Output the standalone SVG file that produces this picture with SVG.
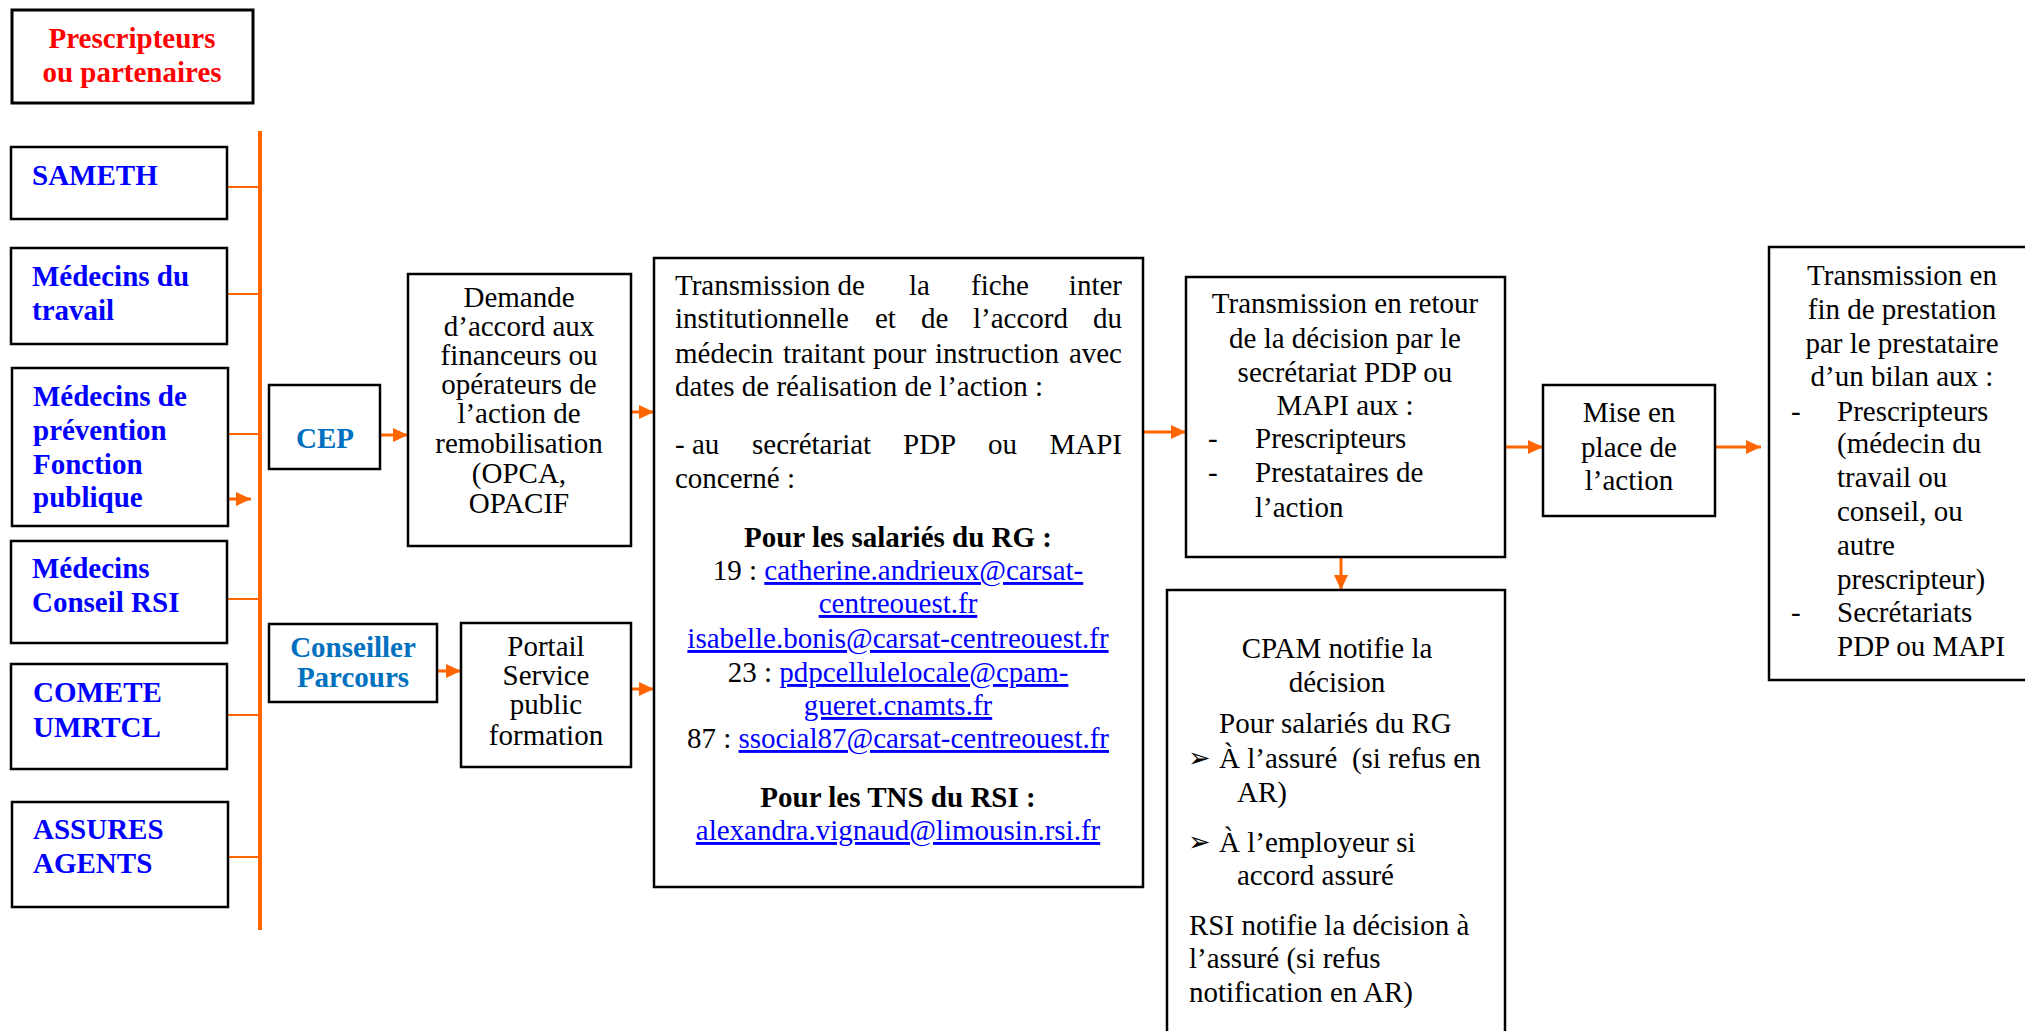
<svg xmlns="http://www.w3.org/2000/svg" width="2025" height="1031" viewBox="0 0 2025 1031">
<style>
.box{fill:#fff;stroke:#000;stroke-width:2.5}
.t{font-family:"Liberation Serif","Times New Roman",serif;font-size:29px;fill:#000}
.b{font-weight:bold}
.blue{fill:#0000FF}
.cblue{fill:#0070C0}
.red{fill:#FF0000}
.link{fill:#0000FF;text-decoration:underline}
.mid{text-anchor:middle}
.branch{stroke:#FF6600;stroke-width:2.2;fill:none}
.conn{stroke:#FF6600;stroke-width:3;fill:none}
.bul{font-family:"DejaVu Sans",sans-serif;font-size:27px;fill:#000}
</style>
<defs>
<marker id="ah" viewBox="0 0 15 14" refX="15" refY="7" markerWidth="15" markerHeight="14" markerUnits="userSpaceOnUse" orient="auto">
<path d="M0,0 L15,7 L0,14 z" fill="#FF6600"/>
</marker>
</defs>
<rect width="2025" height="1031" fill="#fff"/>

<g id="connectors">
<line class="conn" x1="260" y1="131" x2="260" y2="930" style="stroke-width:4"/>
<line class="branch" x1="227" y1="187" x2="260" y2="187"/>
<line class="branch" x1="227" y1="294" x2="260" y2="294"/>
<line class="branch" x1="227" y1="434" x2="260" y2="434"/>
<line class="branch" x1="227" y1="599" x2="260" y2="599"/>
<line class="branch" x1="227" y1="715" x2="260" y2="715"/>
<line class="branch" x1="227" y1="857" x2="260" y2="857"/>
<line class="conn" x1="228" y1="499" x2="251" y2="499" marker-end="url(#ah)"/>
<line class="conn" x1="380" y1="435" x2="408" y2="435" marker-end="url(#ah)"/>
<line class="conn" x1="437" y1="671" x2="461" y2="671" marker-end="url(#ah)"/>
<line class="conn" x1="631" y1="412" x2="654" y2="412" marker-end="url(#ah)"/>
<line class="conn" x1="631" y1="689" x2="654" y2="689" marker-end="url(#ah)"/>
<line class="conn" x1="1143" y1="432" x2="1186" y2="432" marker-end="url(#ah)"/>
<line class="conn" x1="1341" y1="557" x2="1341" y2="590" marker-end="url(#ah)"/>
<line class="conn" x1="1505" y1="447" x2="1543" y2="447" marker-end="url(#ah)"/>
<line class="conn" x1="1715" y1="447" x2="1761" y2="447" marker-end="url(#ah)"/>
</g>

<g id="header">
<rect class="box" x="12" y="10" width="241" height="93" style="stroke-width:3"/>
<text class="t b red mid" x="132" y="48">Prescripteurs</text>
<text class="t b red mid" x="132" y="82">ou partenaires</text>
</g>

<g id="sameth">
<rect class="box" x="11" y="147" width="216" height="72"/>
<text class="t b blue" x="32" y="185">SAMETH</text>
</g>

<g id="medecins-travail">
<rect class="box" x="11" y="248" width="216" height="96"/>
<text class="t b blue" x="32" y="286">Médecins du</text>
<text class="t b blue" x="32" y="320">travail</text>
</g>

<g id="medecins-prevention">
<rect class="box" x="12" y="368" width="216" height="158"/>
<text class="t b blue" x="33" y="406">Médecins de</text>
<text class="t b blue" x="33" y="440">prévention</text>
<text class="t b blue" x="33" y="474">Fonction</text>
<text class="t b blue" x="33" y="507">publique</text>
</g>

<g id="medecins-rsi">
<rect class="box" x="11" y="541" width="216" height="102"/>
<text class="t b blue" x="32" y="578">Médecins</text>
<text class="t b blue" x="32" y="612">Conseil RSI</text>
</g>

<g id="comete">
<rect class="box" x="11" y="664" width="216" height="105"/>
<text class="t b blue" x="33" y="702">COMETE</text>
<text class="t b blue" x="33" y="737">UMRTCL</text>
</g>

<g id="assures">
<rect class="box" x="12" y="802" width="216" height="105"/>
<text class="t b blue" x="33" y="839">ASSURES</text>
<text class="t b blue" x="33" y="873">AGENTS</text>
</g>

<g id="cep">
<rect class="box" x="269" y="385" width="111" height="84"/>
<text class="t b cblue mid" x="325" y="448">CEP</text>
</g>

<g id="conseiller">
<rect class="box" x="269" y="624" width="168" height="78"/>
<text class="t b cblue mid" x="353" y="657">Conseiller</text>
<text class="t b cblue mid" x="353" y="687">Parcours</text>
</g>

<g id="demande">
<rect class="box" x="408" y="274" width="223" height="272"/>
<text class="t mid" x="519" y="307">Demande</text>
<text class="t mid" x="519" y="336">d’accord aux</text>
<text class="t mid" x="519" y="365">financeurs ou</text>
<text class="t mid" x="519" y="394">opérateurs de</text>
<text class="t mid" x="519" y="423">l’action de</text>
<text class="t mid" x="519" y="453">remobilisation</text>
<text class="t mid" x="519" y="483">(OPCA,</text>
<text class="t mid" x="519" y="513">OPACIF</text>
</g>

<g id="portail">
<rect class="box" x="461" y="623" width="170" height="144"/>
<text class="t mid" x="546" y="656">Portail</text>
<text class="t mid" x="546" y="685">Service</text>
<text class="t mid" x="546" y="714">public</text>
<text class="t mid" x="546" y="745">formation</text>
</g>

<g id="transmission">
<rect class="box" x="654" y="258" width="489" height="629"/>
<text class="t" y="295"><tspan x="675">Transmission de</tspan><tspan x="909">la</tspan><tspan x="971">fiche</tspan><tspan x="1122" text-anchor="end">inter</tspan></text>
<text class="t" y="328"><tspan x="675">institutionnelle</tspan><tspan x="875">et</tspan><tspan x="921">de</tspan><tspan x="973">l’accord</tspan><tspan x="1122" text-anchor="end">du</tspan></text>
<text class="t" y="363"><tspan x="675">médecin</tspan><tspan x="783">traitant</tspan><tspan x="873">pour</tspan><tspan x="935">instruction</tspan><tspan x="1122" text-anchor="end">avec</tspan></text>
<text class="t" x="675" y="396">dates de réalisation de l’action :</text>
<text class="t" y="454"><tspan x="675">- au</tspan><tspan x="752">secrétariat</tspan><tspan x="903">PDP</tspan><tspan x="988">ou</tspan><tspan x="1122" text-anchor="end">MAPI</tspan></text>
<text class="t" x="675" y="488">concerné :</text>
<text class="t b mid" x="898" y="547">Pour les salariés du RG :</text>
<text class="t mid" x="898" y="580">19 : <tspan class="link">catherine.andrieux@carsat-</tspan></text>
<text class="t link mid" x="898" y="613">centreouest.fr</text>
<text class="t link mid" x="898" y="648">isabelle.bonis@carsat-centreouest.fr</text>
<text class="t mid" x="898" y="682">23 : <tspan class="link">pdpcellulelocale@cpam-</tspan></text>
<text class="t link mid" x="898" y="715">gueret.cnamts.fr</text>
<text class="t mid" x="898" y="748">87 : <tspan class="link">ssocial87@carsat-centreouest.fr</tspan></text>
<text class="t b mid" x="898" y="807">Pour les TNS du RSI :</text>
<text class="t link mid" x="898" y="840">alexandra.vignaud@limousin.rsi.fr</text>
</g>

<g id="retour">
<rect class="box" x="1186" y="277" width="319" height="280"/>
<text class="t mid" x="1345" y="313">Transmission en retour</text>
<text class="t mid" x="1345" y="348">de la décision par le</text>
<text class="t mid" x="1345" y="382">secrétariat PDP ou</text>
<text class="t mid" x="1345" y="415">MAPI aux :</text>
<text class="t" x="1208" y="448">-</text>
<text class="t" x="1255" y="448">Prescripteurs</text>
<text class="t" x="1208" y="482">-</text>
<text class="t" x="1255" y="482">Prestataires de</text>
<text class="t" x="1255" y="517">l’action</text>
</g>

<g id="cpam">
<rect class="box" x="1167" y="590" width="338" height="470"/>
<text class="t mid" x="1337" y="658">CPAM notifie la</text>
<text class="t mid" x="1337" y="692">décision</text>
<text class="t" x="1219" y="733">Pour salariés du RG</text>
<text class="bul" x="1188" y="767">➢</text>
<text class="t" x="1219" y="768" xml:space="preserve">À l’assuré  (si refus en</text>
<text class="t" x="1237" y="802">AR)</text>
<text class="bul" x="1188" y="851">➢</text>
<text class="t" x="1219" y="852">À l’employeur si</text>
<text class="t" x="1237" y="885">accord assuré</text>
<text class="t" x="1189" y="935">RSI notifie la décision à</text>
<text class="t" x="1189" y="968">l’assuré (si refus</text>
<text class="t" x="1189" y="1002">notification en AR)</text>
</g>

<g id="mise">
<rect class="box" x="1543" y="385" width="172" height="131"/>
<text class="t mid" x="1629" y="422">Mise en</text>
<text class="t mid" x="1629" y="457">place de</text>
<text class="t mid" x="1629" y="490">l’action</text>
</g>

<g id="final">
<rect class="box" x="1769" y="247" width="290" height="433"/>
<text class="t mid" x="1902" y="285">Transmission en</text>
<text class="t mid" x="1902" y="319">fin de prestation</text>
<text class="t mid" x="1902" y="353">par le prestataire</text>
<text class="t mid" x="1902" y="386">d’un bilan aux :</text>
<text class="t" x="1791" y="421">-</text>
<text class="t" x="1837" y="421">Prescripteurs</text>
<text class="t" x="1837" y="453">(médecin du</text>
<text class="t" x="1837" y="487">travail ou</text>
<text class="t" x="1837" y="521">conseil, ou</text>
<text class="t" x="1837" y="555">autre</text>
<text class="t" x="1837" y="589">prescripteur)</text>
<text class="t" x="1791" y="622">-</text>
<text class="t" x="1837" y="622">Secrétariats</text>
<text class="t" x="1837" y="656">PDP ou MAPI</text>
</g>
</svg>
